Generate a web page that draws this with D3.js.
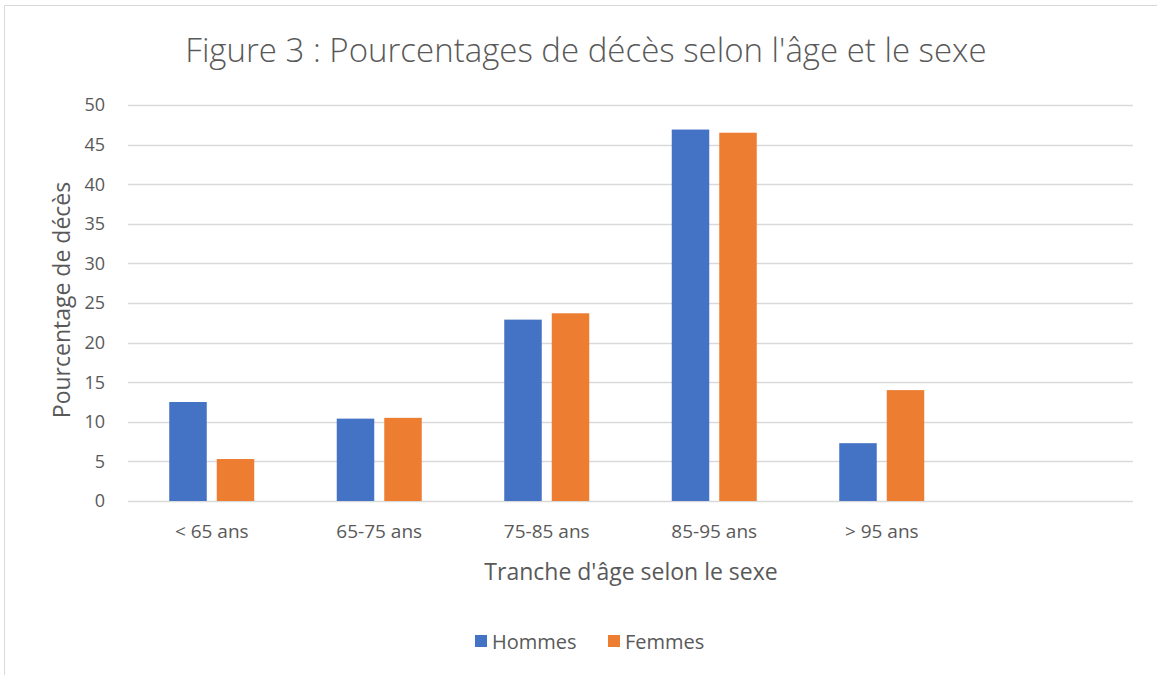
<!DOCTYPE html>
<html><head><meta charset="utf-8">
<script src="https://cdn.jsdelivr.net/npm/d3@7"></script>
<style>body{margin:0;background:#fff;}text{font-family:"Open Sans","Noto Sans",sans-serif;fill:#595959;}</style>
</head><body>
<svg id="c" width="1157" height="675"></svg>
<script>
const categories = ["< 65 ans","65-75 ans","75-85 ans","85-95 ans","> 95 ans",""];
const seriesNames = ["Hommes","Femmes"];
const hommes = [12.5,10.4,22.9,46.9,7.3,null];
const femmes = [5.3,10.5,23.7,46.5,14.0,null];
const yTicks = [0,5,10,15,20,25,30,35,40,45,50];
const colors = ["#4472C4","#ED7D31"];

const svg = d3.select("#c");
svg.append("rect").attr("x",4.5).attr("y",5.5).attr("width",1160).attr("height",680)
  .attr("fill","#fff").attr("stroke","#d9d9d9").attr("stroke-width",1);

const L=128, R=1133, T=105, B=501;
const x = d3.scaleBand().domain(categories.map((d,i)=>i)).range([L,R]);
const y = d3.scaleLinear().domain([0,50]).range([B,T]);
const bw = 37.5, gap = 10;

// gridlines
svg.append("g").selectAll("line").data(yTicks).join("line")
  .attr("x1",L).attr("x2",R).attr("y1",d=>Math.round(y(d))+0.5).attr("y2",d=>Math.round(y(d))+0.5)
  .attr("stroke","#d9d9d9").attr("stroke-width",1.3);

// y tick labels
svg.append("g").selectAll("text").data(yTicks).join("text")
  .attr("x",105).attr("y",d=>y(d)).attr("dy","0.35em").attr("text-anchor","end")
  .attr("font-size",18).text(d=>d);

// bars
const series = [hommes, femmes];
series.forEach((vals, s) => {
  svg.append("g").selectAll("rect").data(vals.map((v,i)=>({v,i})).filter(d=>d.v!=null)).join("rect")
    .attr("x", d => x(d.i) + x.bandwidth()/2 - (bw+gap/2) + s*(bw+gap))
    .attr("width", bw)
    .attr("y", d => y(d.v))
    .attr("height", d => y(0)-y(d.v))
    .attr("fill", colors[s]);
});

// x labels
svg.append("g").selectAll("text").data(categories).join("text")
  .attr("x",(d,i)=>x(i)+x.bandwidth()/2).attr("y",538).attr("text-anchor","middle")
  .attr("font-size",19).text(d=>d);

// title
svg.append("text").attr("x",586).attr("y",62).attr("text-anchor","middle")
  .attr("font-size",33).attr("font-weight",300).text("Figure 3 : Pourcentages de décès selon l'âge et le sexe");

// axis titles
svg.append("text").attr("x",631).attr("y",580).attr("text-anchor","middle")
  .attr("font-size",23).text("Tranche d'âge selon le sexe");
svg.append("text").attr("transform","translate(70,300) rotate(-90)").attr("text-anchor","middle")
  .attr("font-size",23).text("Pourcentage de décès");

// legend
const lg = svg.append("g");
const lx = [475, 608];
seriesNames.forEach((n,i)=>{
  lg.append("rect").attr("x",lx[i]).attr("y",635).attr("width",12).attr("height",12).attr("fill",colors[i]);
  lg.append("text").attr("x",lx[i]+17).attr("y",649).attr("font-size",20).text(n);
});
</script>
</body></html>
